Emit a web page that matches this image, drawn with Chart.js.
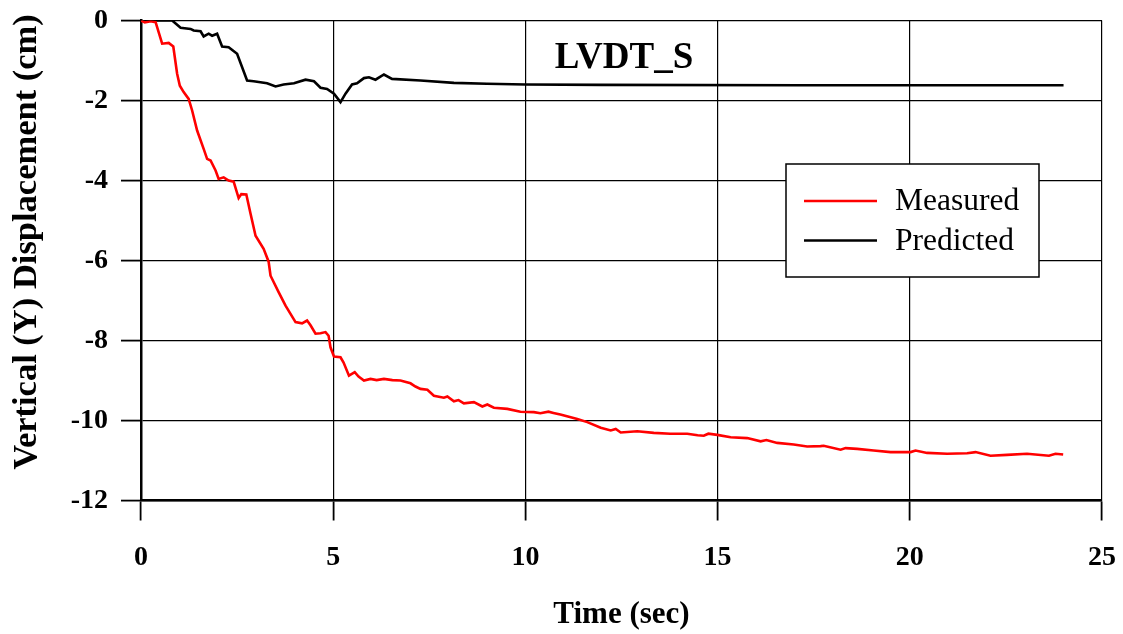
<!DOCTYPE html>
<html>
<head>
<meta charset="utf-8">
<script src="https://cdn.jsdelivr.net/npm/chart.js@4.4.0/dist/chart.umd.min.js"></script>
<style>
  html, body { margin: 0; padding: 0; background: #ffffff; }
  #wrap { width: 1123px; height: 634px; position: relative; }
</style>
</head>
<body>
<div id="wrap"><canvas id="c" width="1123" height="634"></canvas></div>
<script>
// ---- Data ----
const chartTitle = "LVDT_S";
const xAxisTitle = "Time (sec)";
const yAxisTitle = "Vertical (Y) Displacement (cm)";
const seriesLabels = ["Measured", "Predicted"];
const xTicks = [0, 5, 10, 15, 20, 25];
const yTicks = [0, -2, -4, -6, -8, -10, -12];

const measuredTime = [0, 0.1, 0.25, 0.38, 0.55, 0.72, 0.84, 0.94, 1.01, 1.11, 1.24, 1.33, 1.46, 1.63, 1.72, 1.81, 1.94, 2.02, 2.15, 2.28, 2.41, 2.54, 2.61, 2.74, 2.85, 2.98, 3.19, 3.32, 3.37, 3.58, 3.76, 4.02, 4.19, 4.32, 4.41, 4.54, 4.67, 4.80, 4.88, 4.93, 5.02, 5.19, 5.27, 5.41, 5.56, 5.66, 5.80, 5.97, 6.13, 6.32, 6.54, 6.75, 7.01, 7.14, 7.27, 7.45, 7.62, 7.88, 7.97, 8.14, 8.26, 8.40, 8.66, 8.88, 9.01, 9.18, 9.53, 9.87, 10.22, 10.39, 10.60, 10.73, 10.91, 11.35, 11.61, 11.96, 12.22, 12.35, 12.48, 12.91, 13.34, 13.77, 14.21, 14.48, 14.64, 14.76, 14.99, 15.34, 15.77, 16.12, 16.27, 16.55, 16.98, 17.33, 17.68, 17.76, 18.20, 18.33, 18.63, 19.06, 19.50, 20.02, 20.15, 20.45, 20.97, 21.49, 21.71, 22.10, 22.53, 23.05, 23.62, 23.79, 23.99];
const measuredDisp = [0, -0.05, -0.02, -0.04, -0.58, -0.56, -0.65, -1.33, -1.63, -1.79, -1.96, -2.25, -2.75, -3.21, -3.46, -3.50, -3.75, -3.96, -3.92, -4.00, -4.03, -4.44, -4.34, -4.35, -4.83, -5.38, -5.71, -6.03, -6.38, -6.79, -7.13, -7.54, -7.57, -7.50, -7.62, -7.83, -7.82, -7.79, -7.88, -8.17, -8.40, -8.42, -8.55, -8.88, -8.79, -8.90, -9.00, -8.96, -8.99, -8.96, -8.99, -9.00, -9.07, -9.15, -9.21, -9.23, -9.38, -9.43, -9.40, -9.52, -9.49, -9.57, -9.54, -9.65, -9.60, -9.68, -9.71, -9.78, -9.79, -9.82, -9.78, -9.81, -9.85, -9.96, -10.04, -10.18, -10.25, -10.21, -10.30, -10.27, -10.31, -10.33, -10.33, -10.37, -10.38, -10.33, -10.36, -10.42, -10.44, -10.52, -10.49, -10.56, -10.60, -10.65, -10.64, -10.63, -10.73, -10.69, -10.71, -10.75, -10.79, -10.79, -10.75, -10.81, -10.83, -10.82, -10.79, -10.88, -10.86, -10.83, -10.88, -10.83, -10.85];

const predictedTime = [0, 0.81, 1.03, 1.29, 1.37, 1.55, 1.63, 1.76, 1.85, 1.98, 2.11, 2.28, 2.50, 2.76, 2.93, 3.28, 3.50, 3.71, 3.98, 4.28, 4.50, 4.67, 4.84, 5.02, 5.19, 5.32, 5.49, 5.62, 5.80, 5.93, 6.10, 6.32, 6.53, 7.27, 8.14, 9.00, 10.00, 11.95, 17.16, 24.00];
const predictedDisp = [0, 0, -0.18, -0.21, -0.25, -0.27, -0.40, -0.33, -0.38, -0.33, -0.65, -0.67, -0.83, -1.50, -1.52, -1.57, -1.65, -1.60, -1.57, -1.48, -1.52, -1.68, -1.71, -1.83, -2.04, -1.83, -1.60, -1.57, -1.44, -1.42, -1.48, -1.35, -1.46, -1.50, -1.56, -1.58, -1.60, -1.61, -1.62, -1.62];

const seriesColors = ["#ff0000", "#000000"];

// ---- Build chart ----
const toPoints = (xs, ys) => xs.map((x, i) => ({ x: x, y: ys[i] }));
const serif = "'Liberation Serif', 'Times New Roman', serif";

const overlayPlugin = {
  id: 'overlay',
  afterDraw(chart) {
    const ctx = chart.ctx;
    ctx.save();
    // y axis title (placed as in the reference, slightly above axis centre)
    ctx.save();
    ctx.translate(27, 242);
    ctx.rotate(-Math.PI / 2);
    ctx.fillStyle = '#000';
    ctx.font = "bold 34.5px " + serif;
    ctx.textAlign = 'center';
    ctx.textBaseline = 'middle';
    ctx.fillText(yAxisTitle, 0, 0);
    ctx.restore();
    // in-plot title
    ctx.fillStyle = '#000';
    ctx.font = "bold 37px " + serif;
    ctx.textAlign = 'center';
    ctx.textBaseline = 'middle';
    ctx.fillText(chartTitle, 624, 58);
    // legend box
    const bx = 786, by = 164, bw = 253, bh = 113;
    ctx.fillStyle = '#fff';
    ctx.fillRect(bx, by, bw, bh);
    ctx.strokeStyle = '#000';
    ctx.lineWidth = 1.5;
    ctx.strokeRect(bx, by, bw, bh);
    ctx.font = "31.5px " + serif;
    ctx.textAlign = 'left';
    chart.data.datasets.forEach((ds, i) => {
      const yy = 201 + i * 39.5;
      ctx.strokeStyle = ds.borderColor;
      ctx.lineWidth = 2.5;
      ctx.beginPath();
      ctx.moveTo(804, yy);
      ctx.lineTo(877, yy);
      ctx.stroke();
      ctx.fillStyle = '#000';
      ctx.fillText(ds.label, 895, yy + 1);
    });
    ctx.restore();
  }
};

new Chart(document.getElementById('c'), {
  type: 'scatter',
  data: {
    datasets: [
      { label: seriesLabels[0], data: toPoints(measuredTime, measuredDisp), borderColor: seriesColors[0], backgroundColor: seriesColors[0], showLine: true, pointRadius: 0, borderWidth: 2.6, tension: 0 },
      { label: seriesLabels[1], data: toPoints(predictedTime, predictedDisp), borderColor: seriesColors[1], backgroundColor: seriesColors[1], showLine: true, pointRadius: 0, borderWidth: 2.6, tension: 0 }
    ]
  },
  options: {
    responsive: false,
    animation: false,
    devicePixelRatio: 1,
    layout: { padding: { top: 20.5, right: 21, left: 0, bottom: 0 } },
    plugins: { legend: { display: false }, title: { display: false }, tooltip: { enabled: false } },
    scales: {
      x: {
        type: 'linear', min: 0, max: 25,
        afterBuildTicks: (s) => { s.ticks = xTicks.map(v => ({ value: v })); },
        afterFit: (s) => { s.height = 133.5; s.paddingLeft = 0; s.paddingRight = 0; s.paddingTop = 0; s.paddingBottom = 0; },
        ticks: { color: '#000', font: { family: serif, size: 28, weight: 'bold' }, padding: 20, maxRotation: 0 },
        grid: { color: '#000', lineWidth: 1.2, tickLength: 20, tickColor: '#000', tickWidth: 1.8 },
        border: { color: '#000', width: 2.5 },
        title: { display: true, text: xAxisTitle, color: '#000', font: { family: serif, size: 31, weight: 'bold' }, padding: { top: 0, bottom: 0 } }
      },
      y: {
        type: 'linear', min: -12, max: 0,
        afterBuildTicks: (s) => { s.ticks = yTicks.map(v => ({ value: v })); },
        afterFit: (s) => { s.width = 141; s.paddingLeft = 0; s.paddingRight = 0; s.paddingTop = 0; s.paddingBottom = 0; },
        ticks: { color: '#000', font: { family: serif, size: 28, weight: 'bold' }, padding: 13 },
        grid: { color: '#000', lineWidth: 1.2, tickLength: 20, tickColor: '#000', tickWidth: 1.8 },
        border: { color: '#000', width: 2.5 },
        title: { display: false }
      }
    }
  },
  plugins: [overlayPlugin]
});
</script>
</body>
</html>
